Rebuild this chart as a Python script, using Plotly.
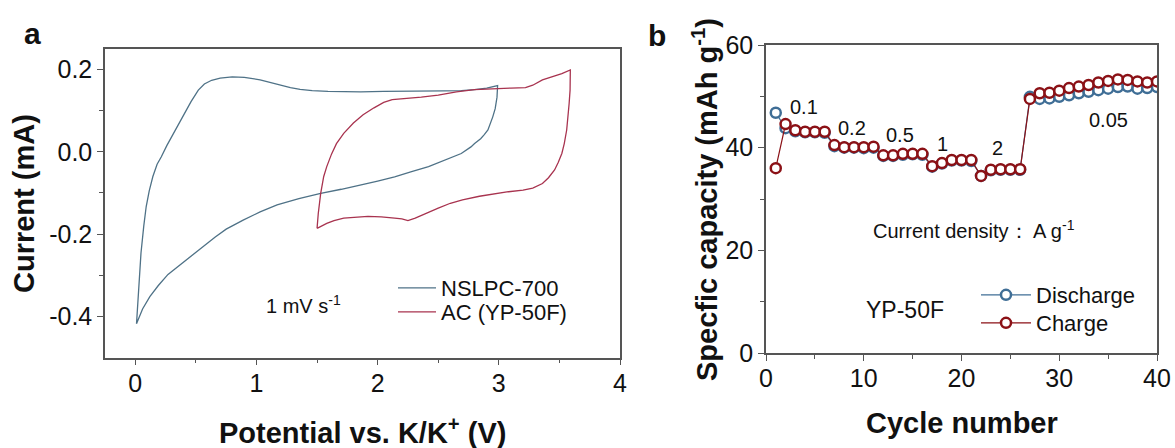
import plotly.graph_objects as go

# ---------------- Panel a: CV curves ----------------
nslpc_v = [0.01, 0.03, 0.047, 0.07, 0.09, 0.115, 0.145, 0.18, 0.215, 0.26, 0.30, 0.35, 0.41, 0.46,
           0.52, 0.57, 0.63, 0.70, 0.80, 0.90, 1.03, 1.12, 1.20, 1.28, 1.36, 1.46, 1.59, 1.75, 1.86,
           2.05, 2.25, 2.42, 2.55, 2.69, 2.80, 2.90, 2.96, 2.99,
           2.985, 2.97, 2.95, 2.93, 2.91, 2.88, 2.85, 2.80, 2.77, 2.69, 2.55, 2.42, 2.28, 2.14, 2.00,
           1.86, 1.70, 1.53, 1.35, 1.17, 1.03, 0.89, 0.80, 0.75, 0.66, 0.56, 0.45, 0.36, 0.27, 0.19,
           0.12, 0.06, 0.03, 0.01]
nslpc_i = [-0.418, -0.33, -0.246, -0.18, -0.133, -0.095, -0.06, -0.03, -0.012, 0.015, 0.036, 0.065,
           0.093, 0.122, 0.15, 0.165, 0.174, 0.179, 0.182, 0.181, 0.175, 0.168, 0.162, 0.156, 0.152,
           0.149, 0.147, 0.146, 0.146, 0.147, 0.147, 0.148, 0.148, 0.149, 0.151, 0.155, 0.158, 0.161,
           0.133, 0.105, 0.085, 0.066, 0.053, 0.042, 0.032, 0.020, 0.012, -0.004, -0.020, -0.036,
           -0.048, -0.061, -0.071, -0.081, -0.091, -0.101, -0.114, -0.129, -0.146, -0.166, -0.180,
           -0.188, -0.207, -0.230, -0.255, -0.275, -0.298, -0.325, -0.352, -0.382, -0.402, -0.418]

ac_v = [1.50, 1.51, 1.53, 1.555, 1.58, 1.62, 1.66, 1.72, 1.80, 1.88, 1.97, 2.05, 2.12, 2.25, 2.36,
        2.50, 2.65, 2.80, 2.97, 3.10, 3.22, 3.28, 3.36, 3.45, 3.52, 3.59,
        3.588, 3.58, 3.57, 3.56, 3.54, 3.52, 3.49, 3.46, 3.41, 3.36, 3.28, 3.20, 3.08, 2.98, 2.84,
        2.70, 2.60, 2.50, 2.40, 2.31, 2.25, 2.20, 2.14, 2.03, 1.92, 1.82, 1.72, 1.64, 1.58, 1.50]
ac_i = [-0.186, -0.15, -0.101, -0.06, -0.036, -0.005, 0.02, 0.045, 0.07, 0.09, 0.107, 0.12, 0.127,
        0.13, 0.133, 0.138, 0.146, 0.151, 0.154, 0.155, 0.156, 0.162, 0.175, 0.184, 0.19, 0.199,
        0.15, 0.117, 0.08, 0.053, 0.02, -0.004, -0.026, -0.044, -0.063, -0.077, -0.088, -0.093,
        -0.097, -0.101, -0.108, -0.117, -0.125, -0.137, -0.15, -0.161, -0.167, -0.163, -0.161,
        -0.158, -0.157, -0.159, -0.161, -0.167, -0.174, -0.186]

a_xticks = [0, 1, 2, 3, 4]
a_xtick_labels = ["0", "1", "2", "3", "4"]
a_yticks = [-0.4, -0.2, 0.0, 0.2]
a_ytick_labels = ["-0.4", "-0.2", "0.0", "0.2"]

# ---------------- Panel b: rate capability ----------------
cycles = list(range(1, 41))
discharge = [46.8, 43.8, 43.2, 43.0, 43.0, 42.9, 40.3, 40.0, 40.0, 39.9, 40.0, 38.4, 38.4, 38.6,
             38.7, 38.6, 36.3, 36.9, 37.5, 37.5, 37.4, 34.5, 35.6, 35.7, 35.7, 35.7, 49.9, 49.5,
             49.6, 49.9, 50.2, 50.6, 50.9, 51.2, 51.5, 51.8, 51.9, 51.5, 51.6, 51.8]
charge = [36.0, 44.6, 43.4, 43.1, 43.1, 43.1, 40.5, 40.1, 40.1, 40.1, 40.2, 38.5, 38.5, 38.8, 38.8,
          38.8, 36.4, 37.0, 37.6, 37.6, 37.6, 34.5, 35.7, 35.8, 35.8, 35.8, 49.5, 50.6, 50.7, 51.1,
          51.6, 51.9, 52.2, 52.7, 53.0, 53.3, 53.2, 52.9, 52.7, 52.9]

rate_labels = ["0.1", "0.2", "0.5", "1", "2", "0.05"]
rate_x = [3.9, 8.8, 13.7, 18.1, 23.7, 35.0]
rate_y = [48.0, 43.8, 42.5, 40.7, 39.9, 45.3]

b_xticks = [0, 10, 20, 30, 40]
b_yticks = [0, 20, 40, 60]

W, H = 1175, 448
FONT = "Liberation Sans, Arial, sans-serif"
AX = "#555555"
TXT = "#111111"
c_nslpc = "#4f7287"
c_ac = "#a8334f"
c_dis = "#3f6e96"
c_chg = "#8b1116"

fig = go.Figure()
fig.add_trace(go.Scatter(x=nslpc_v, y=nslpc_i, mode="lines", name="NSLPC-700",
                         line=dict(color=c_nslpc, width=1.3), xaxis="x", yaxis="y", legend="legend"))
fig.add_trace(go.Scatter(x=ac_v, y=ac_i, mode="lines", name="AC (YP-50F)",
                         line=dict(color=c_ac, width=1.3), xaxis="x", yaxis="y", legend="legend2"))
fig.add_trace(go.Scatter(x=cycles, y=discharge, mode="lines+markers", name="Discharge",
                         line=dict(color=c_dis, width=1.2),
                         marker=dict(symbol="circle", size=10, color="white",
                                     line=dict(color=c_dis, width=2.5)),
                         xaxis="x2", yaxis="y2", legend="legend3"))
fig.add_trace(go.Scatter(x=cycles, y=charge, mode="lines+markers", name="Charge",
                         line=dict(color=c_chg, width=1.2),
                         marker=dict(symbol="circle", size=10, color="white",
                                     line=dict(color=c_chg, width=2.5)),
                         xaxis="x2", yaxis="y2", legend="legend4"))


def px(x):
    return x / W


def py(y):
    return 1 - y / H


axis_common = dict(showline=True, linecolor=AX, linewidth=1.5, mirror=True, ticks="outside",
                   ticklen=6, tickwidth=1.3, tickcolor=AX, showgrid=False, zeroline=False,
                   automargin=False, tickfont=dict(family=FONT, size=25, color=TXT))

fig.update_layout(
    template="none",
    width=W, height=H, margin=dict(l=0, r=0, t=0, b=0, pad=0, autoexpand=False),
    paper_bgcolor="white", plot_bgcolor="white", showlegend=True,
    xaxis=dict(domain=[px(105), px(620)], range=[-0.25, 4], anchor="y",
               tickvals=a_xticks, ticktext=a_xtick_labels, ticklabelstandoff=-3,
               minor=dict(tickvals=[0.5, 1.5, 2.5, 3.5], ticks="outside", ticklen=4,
                          tickcolor=AX), **axis_common),
    yaxis=dict(domain=[py(357.5), py(49)], range=[-0.5, 0.25], anchor="x",
               tickvals=a_yticks, ticktext=a_ytick_labels,
               minor=dict(tickvals=[-0.3, -0.1, 0.1], ticks="outside", ticklen=4, tickcolor=AX),
               **axis_common),
    xaxis2=dict(domain=[px(766), px(1157)], range=[0, 40], anchor="y2",
                tickvals=b_xticks, ticklabelstandoff=-4,
                minor=dict(tickvals=[5, 15, 25, 35], ticks="outside", ticklen=4, tickcolor=AX),
                **axis_common),
    yaxis2=dict(domain=[py(353), py(45)], range=[0, 60], anchor="x2",
                tickvals=b_yticks,
                minor=dict(tickvals=[10, 30, 50], ticks="outside", ticklen=4, tickcolor=AX),
                **axis_common),
)

leg_common = dict(font=dict(family=FONT, size=22, color=TXT), bgcolor="rgba(0,0,0,0)",
                  borderwidth=0, xanchor="left", yanchor="middle")
fig.update_layout(
    legend=dict(x=px(393), y=py(288), itemwidth=38, **leg_common),
    legend2=dict(x=px(393), y=py(312), itemwidth=38, **leg_common),
    legend3=dict(x=px(976), y=py(295), itemwidth=50, **leg_common),
    legend4=dict(x=px(976), y=py(323), itemwidth=50, **leg_common),
)

ann = []


def add_text(text, x, y, size, xref="paper", yref="paper", angle=0, bold=False):
    ann.append(dict(text=f"<b>{text}</b>" if bold else text, x=x, y=y, xref=xref, yref=yref,
                    xanchor="center", yanchor="middle", showarrow=False, textangle=angle,
                    font=dict(family=FONT, size=size, color=TXT)))


# panel labels
add_text("a", px(32), py(33), 30, bold=True)
add_text("b", px(657), py(35), 30, bold=True)
# axis titles
add_text("Potential vs. K/K<sup>+</sup> (V)", px(362), py(431), 29, bold=True)
add_text("Current (mA)", px(24), py(204), 29, angle=-90, bold=True)
add_text("Cycle number", px(962), py(423), 29, bold=True)
add_text("Specfic capacity (mAh g<sup>-1</sup>)", px(705), py(200), 29, angle=-90, bold=True)
# panel a note
add_text("1 mV s<sup>-1</sup>", 1.39, -0.372, 20, xref="x", yref="y")
# panel b notes
for t, xx, yy in zip(rate_labels, rate_x, rate_y):
    add_text(t, xx, yy, 20, xref="x2", yref="y2")
add_text("Current density\uff1a A g<sup>-1</sup>", 21.3, 24.0, 20, xref="x2", yref="y2")
add_text("YP-50F", 14.2, 8.4, 23, xref="x2", yref="y2")
fig.update_layout(annotations=ann)

fig.write_html("out.html")
